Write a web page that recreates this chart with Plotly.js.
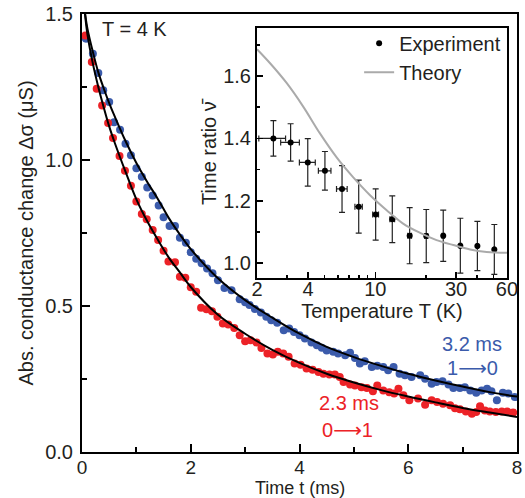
<!DOCTYPE html>
<html><head><meta charset="utf-8">
<script src="https://cdn.plot.ly/plotly-3.0.1.min.js"></script>
<style>html,body{margin:0;padding:0;background:#fff}#chart{width:525px;height:498px}</style>
</head><body><div id="chart"></div>
<script>
// Main panel: 1->0 (blue) data
const blueT = [0.07,0.20,0.30,0.39,0.50,0.59,0.70,0.80,0.90,1.00,1.10,1.20,1.30,1.41,1.50,1.61,1.71,1.80,1.91,2.00,2.10,2.20,2.30,2.40,2.50,2.62,2.75,2.90,3.00,3.08,3.18,3.29,3.39,3.48,3.59,3.71,3.81,3.90,4.00,4.10,4.22,4.32,4.41,4.50,4.62,4.71,4.84,4.93,5.02,5.11,5.20,5.33,5.43,5.54,5.63,5.73,5.84,5.94,6.06,6.22,6.31,6.43,6.52,6.63,6.74,6.83,6.95,7.04,7.14,7.25,7.35,7.45,7.53,7.63,7.74,7.84,7.96];
const blueY = [1.415,1.364,1.298,1.239,1.199,1.129,1.104,1.056,1.016,0.972,0.943,0.906,0.878,0.844,0.804,0.774,0.774,0.734,0.717,0.684,0.662,0.646,0.628,0.612,0.588,0.562,0.554,0.523,0.513,0.503,0.490,0.478,0.463,0.451,0.443,0.417,0.423,0.411,0.400,0.389,0.375,0.366,0.357,0.348,0.343,0.337,0.331,0.340,0.322,0.303,0.311,0.291,0.295,0.291,0.280,0.291,0.268,0.263,0.257,0.263,0.251,0.234,0.240,0.242,0.231,0.219,0.219,0.222,0.211,0.203,0.211,0.217,0.208,0.177,0.203,0.200,0.188];
// Main panel: 0->1 (red) data
const redT = [0.06,0.18,0.27,0.37,0.48,0.57,0.69,0.79,0.90,1.00,1.10,1.19,1.30,1.40,1.50,1.59,1.71,1.80,1.90,2.00,2.10,2.19,2.29,2.39,2.49,2.59,2.69,2.80,2.90,3.00,3.10,3.21,3.30,3.41,3.51,3.60,3.70,3.80,3.91,4.02,4.13,4.24,4.35,4.44,4.55,4.65,4.74,4.81,4.93,5.02,5.14,5.24,5.35,5.43,5.54,5.65,5.74,5.82,5.91,6.02,6.18,6.31,6.43,6.53,6.64,6.77,6.86,6.95,7.06,7.17,7.25,7.32,7.41,7.50,7.61,7.72,7.82,7.93];
const redY = [1.426,1.336,1.244,1.187,1.127,1.075,1.014,0.963,0.912,0.858,0.815,0.797,0.760,0.726,0.689,0.652,0.650,0.600,0.597,0.564,0.549,0.494,0.489,0.482,0.463,0.440,0.437,0.425,0.400,0.379,0.383,0.375,0.356,0.337,0.334,0.343,0.337,0.326,0.303,0.299,0.286,0.282,0.274,0.268,0.265,0.265,0.257,0.240,0.231,0.228,0.222,0.219,0.208,0.228,0.211,0.205,0.200,0.217,0.194,0.177,0.183,0.162,0.177,0.171,0.165,0.160,0.150,0.146,0.139,0.131,0.137,0.157,0.142,0.139,0.137,0.139,0.139,0.135];
// Fit curves
const fitUpT = [0.05,0.10,0.20,0.30,0.40,0.50,0.60,0.80,1.00,1.20,1.40,1.60,1.80,2.00,2.50,3.00,3.50,4.00,4.50,5.00,5.50,6.00,6.50,7.00,7.50,8.00];
const fitUpY = [1.51,1.45,1.37,1.30,1.245,1.195,1.15,1.065,0.99,0.925,0.865,0.80,0.745,0.695,0.595,0.52,0.46,0.405,0.36,0.325,0.295,0.268,0.245,0.224,0.205,0.19];
const fitLoT = [0.05,0.10,0.20,0.30,0.40,0.50,0.60,0.80,1.00,1.20,1.40,1.60,1.80,2.00,2.50,3.00,3.50,4.00,4.50,5.00,5.50,6.00,6.50,7.00,7.50,8.00];
const fitLoY = [1.51,1.43,1.33,1.25,1.18,1.115,1.06,0.96,0.865,0.79,0.725,0.665,0.615,0.565,0.47,0.405,0.35,0.305,0.268,0.238,0.212,0.19,0.17,0.151,0.135,0.12];
// Inset
const expT = [2.50,3.16,3.99,5.04,6.36,7.98,10.05,12.6,15.96,20.0,25.2,31.8,40.1,50.5];
const expY = [1.400,1.387,1.323,1.296,1.238,1.181,1.156,1.141,1.088,1.087,1.088,1.056,1.055,1.044];
const expErrY = [0.057,0.060,0.076,0.062,0.075,0.085,0.082,0.075,0.090,0.085,0.082,0.088,0.079,0.080];
const expErrX = [0.45,0.40,0.43,0.43,0.46,0.40,0.40,0.40,0.40,0.40,0.40,0.40,0.40,0.40];
const theoryT = [2,2.39,3.0,3.75,4.71,5.91,7.41,9.31,11.67,14.6,18.4,23.0,28.9,36.3,45.5,60];
const theoryY = [1.686,1.641,1.577,1.502,1.416,1.339,1.275,1.218,1.170,1.127,1.097,1.074,1.058,1.044,1.036,1.033];
const insetTickVals = [2,4,10,30,60];
const insetTickText = ['2','4','10','30','60'];
const insetMinor = [3,5,6,7,8,9,20,40,50];

const BLUE = '#3b5bab', RED = '#ec2227', TXT = '#231f20';
const FONT = 'Liberation Sans, Arial, sans-serif';
const ARROW = '<span style="font-family:DejaVu Sans">⟶</span>';

const traces = [
  {x: blueT, y: blueY, type:'scatter', mode:'markers', marker:{color:BLUE, size:8}, showlegend:false, xaxis:'x', yaxis:'y'},
  {x: redT, y: redY, type:'scatter', mode:'markers', marker:{color:RED, size:8}, showlegend:false, xaxis:'x', yaxis:'y'},
  {x: fitUpT, y: fitUpY, type:'scatter', mode:'lines', line:{color:'#000', width:2, shape:'spline'}, showlegend:false, xaxis:'x', yaxis:'y'},
  {x: fitLoT, y: fitLoY, type:'scatter', mode:'lines', line:{color:'#000', width:2, shape:'spline'}, showlegend:false, xaxis:'x', yaxis:'y'},
  {x: expT, y: expY, type:'scatter', mode:'markers', name:'Experiment', marker:{color:'#000', size:6},
   error_y:{type:'data', array: expErrY, visible:true, color:'#222', thickness:1.2, width:3},
   error_x:{type:'data', array: expErrX, visible:true, color:'#222', thickness:1.2, width:3},
   xaxis:'x2', yaxis:'y2'},
  {x: theoryT, y: theoryY, type:'scatter', mode:'lines', name:'Theory', line:{color:'#aaaaaa', width:2, shape:'spline'}, xaxis:'x2', yaxis:'y2'}
];

const axisCommon = {showgrid:false, zeroline:false, showline:true, linecolor:'#000', mirror:true, ticks:'inside', tickcolor:'#000', tickfont:{family:FONT, size:20, color:TXT}};

const layout = {
  width:525, height:498,
  margin:{l:82, r:8, t:14, b:46},
  paper_bgcolor:'#fff', plot_bgcolor:'rgba(0,0,0,0)',
  font:{family:FONT, color:TXT, size:20},
  xaxis: Object.assign({}, axisCommon, {range:[0,8], domain:[0,1], anchor:'y', tickvals:[0,2,4,6,8], ticklen:8, tickwidth:2, linewidth:2,
    tickfont:{family:FONT, size:19, color:TXT},
    minor:{tickvals:[1,3,5,7], ticks:'inside', ticklen:5, tickwidth:2, tickcolor:'#000'},
    ticklabelstandoff:-3}),
  yaxis: Object.assign({}, axisCommon, {range:[0,1.5], domain:[0,1], anchor:'x', tickvals:[0,0.5,1.0,1.5], tickformat:'.1f', ticklen:8, tickwidth:2, linewidth:2,
    minor:{tickvals:[0.25,0.75,1.25], ticks:'inside', ticklen:5, tickwidth:2, tickcolor:'#000'},
    ticklabelstandoff:3,
    title:{text:'Abs. conductance change Δσ (μS)', font:{family:FONT, size:20, color:TXT}, standoff:6}}),
  xaxis2: Object.assign({}, axisCommon, {type:'log', range:[Math.log10(2), Math.log10(60)], domain:[0.4023,0.977], anchor:'y2',
    tickvals:insetTickVals, ticktext:insetTickText, ticklen:6, tickwidth:1.5, linewidth:2,
    minor:{tickvals:insetMinor, ticks:'inside', ticklen:3, tickwidth:1.5, tickcolor:'#000'},
    ticklabelstandoff:-8,
    title:{text:'Temperature T (K)', font:{family:FONT, size:20, color:TXT}, standoff:0}}),
  yaxis2: Object.assign({}, axisCommon, {range:[0.952,1.754], domain:[0.397,0.968], anchor:'x2', tickvals:[1.0,1.2,1.4,1.6], tickformat:'.1f',
    ticklen:6, tickwidth:1.5, linewidth:2,
    minor:{tickvals:[1.1,1.3,1.5,1.7], ticks:'inside', ticklen:3, tickwidth:1.5, tickcolor:'#000'},
    ticklabelstandoff:0,
    title:{text:'Time ratio ν̄', font:{family:FONT, size:20, color:TXT}, standoff:1}}),
  legend:{x:0.975, xanchor:'right', y:0.978, yanchor:'top', bgcolor:'rgba(0,0,0,0)', font:{family:FONT, size:20, color:TXT}, tracegroupgap:0, itemwidth:30},
  showlegend:true,
  annotations:[
    {xref:'paper', yref:'paper', x:0.5, y:-0.1062, yanchor:'bottom', borderpad:0, text:'Time t (ms)', showarrow:false, font:{family:FONT, size:18, color:TXT}},
    {xref:'x', yref:'y', x:0.97, y:1.447, text:'T = 4 K', showarrow:false, font:{family:FONT, size:20, color:TXT}},
    {xref:'x', yref:'y', x:7.17, y:0.37, text:'3.2 ms', showarrow:false, font:{family:FONT, size:20, color:BLUE}},
    {xref:'x', yref:'y', x:7.18, y:0.288, text:'1' + ARROW + '0', showarrow:false, font:{family:FONT, size:20, color:BLUE}},
    {xref:'x', yref:'y', x:4.91, y:0.167, text:'2.3 ms', showarrow:false, font:{family:FONT, size:20, color:RED}},
    {xref:'x', yref:'y', x:4.88, y:0.074, text:'0' + ARROW + '1', showarrow:false, font:{family:FONT, size:20, color:RED}}
  ]
};

Plotly.newPlot('chart', traces, layout, {displayModeBar:false, staticPlot:true});
</script>
</body></html>
